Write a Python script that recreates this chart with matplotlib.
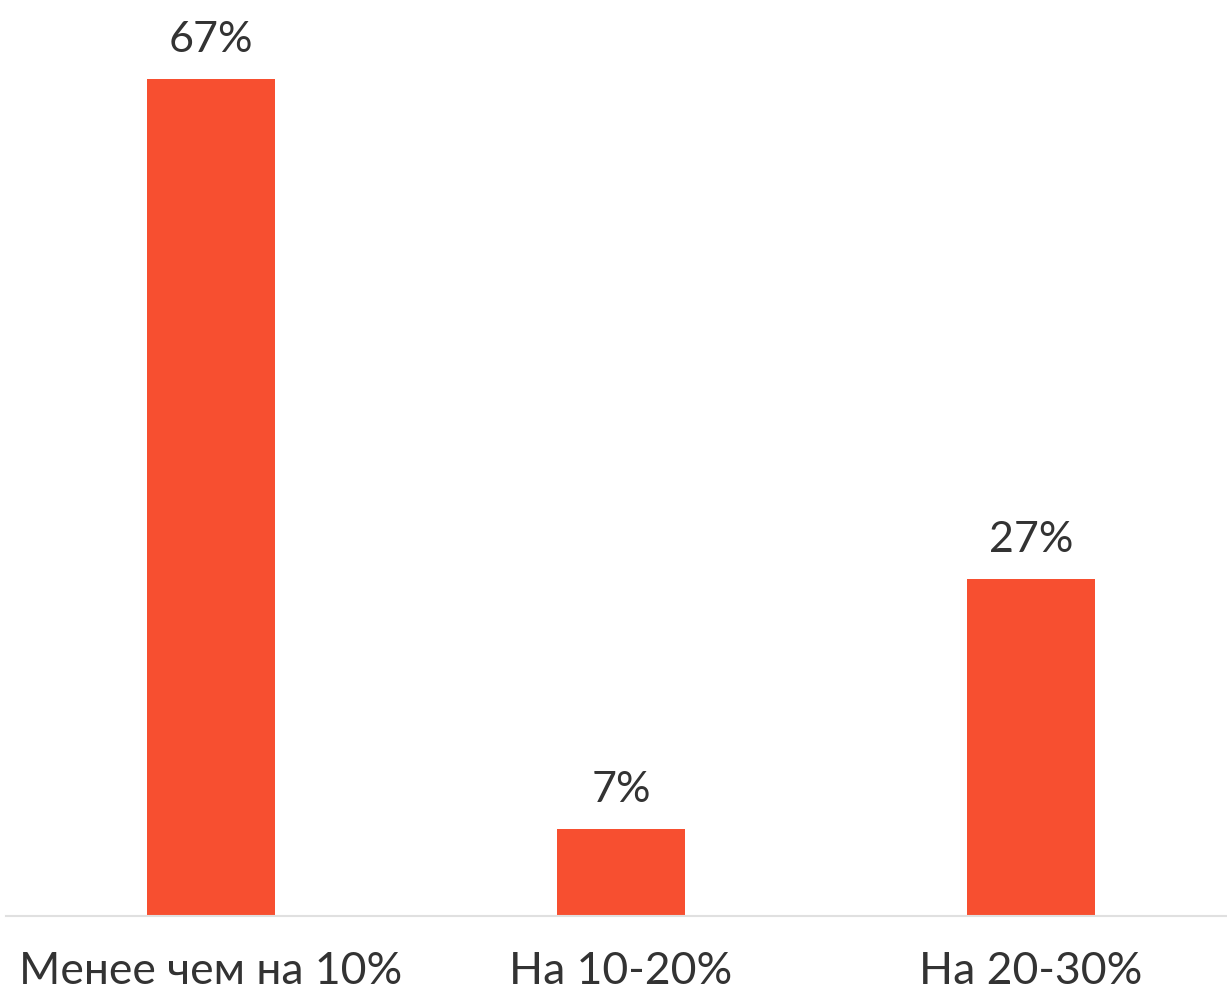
import matplotlib
matplotlib.use("Agg")
import matplotlib.pyplot as plt

categories = ["Менее чем на 10%", "На 10-20%", "На 20-30%"]
values = [67, 7, 27]
labels = ["67%", "7%", "27%"]

plt.rcParams['font.family'] = ['Lato', 'DejaVu Sans']

W, H = 1227, 991
fig = plt.figure(figsize=(W/100, H/100), dpi=100)
ax = fig.add_axes([6/W, 75/H, (W-6)/W, (H-75)/H])

x = range(len(categories))
ax.bar(x, values, width=0.312, color="#F74F30", zorder=2)
for xi, v, lab in zip(x, values, labels):
    ax.annotate(lab, (xi, v), xytext=(0, 14), textcoords="offset points",
                ha="center", va="bottom", fontsize=31, color="#333333")

ax.set_xlim(-0.5, -0.5 + (W-6)/410)
ax.set_ylim(0, 916/12.5)
ax.set_xticks(list(x))
ax.set_xticklabels(categories, fontsize=32, color="#333333")
ax.tick_params(axis="x", length=0, pad=25)
ax.set_yticks([])
for s in ["top", "right", "left"]:
    ax.spines[s].set_visible(False)
ax.spines["bottom"].set_color("#e0e0e0")
ax.spines["bottom"].set_linewidth(1.5)

fig.savefig("out.png", dpi=100)
